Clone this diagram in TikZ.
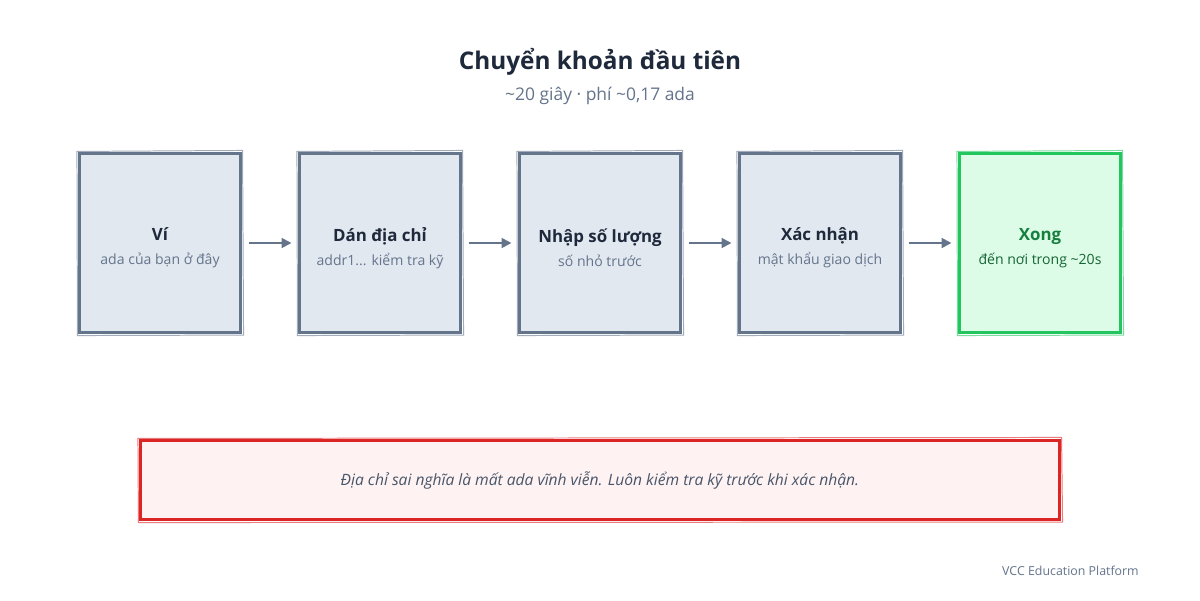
\documentclass[tikz,border=0pt]{standalone}
\usepackage{fontspec}
\setmainfont{Open Sans}
\usetikzlibrary{arrows.meta}
\definecolor{slateline}{HTML}{64748B}
\definecolor{slatefill}{HTML}{E2E8F0}
\definecolor{darktext}{HTML}{1E293B}
\definecolor{subtext}{HTML}{64748B}
\definecolor{greenline}{HTML}{22C55E}
\definecolor{greenfill}{HTML}{DCFCE7}
\definecolor{greentext}{HTML}{15803D}
\definecolor{greensub}{HTML}{166534}
\definecolor{redline}{HTML}{DC2626}
\definecolor{redfill}{HTML}{FEF2F2}
\definecolor{warntext}{HTML}{475569}
\newlength{\px}
\setlength{\px}{0.025cm}
\tikzset{
	stepbox/.style={draw=slateline,fill=slatefill,line width=1.5pt,minimum width=161\px,minimum height=179\px,inner sep=0pt},
	donebox/.style={stepbox,draw=greenline,fill=greenfill},
	steptext/.style={align=center,inner sep=0pt},
	warnbox/.style={draw=redline,fill=redfill,line width=1.5pt,minimum width=919\px,minimum height=79\px,inner sep=0pt},
	sketchline/.style={line width=0.7pt,opacity=0.6},
	flow/.style={draw=slateline,line width=1.5pt,-{Triangle[length=7pt,width=7pt]}}
}
\newcommand{\steptitle}[2]{{\fontsize{12}{14}\selectfont\bfseries\color{#1}#2}}
\newcommand{\stepsub}[2]{{\fontsize{10}{12}\selectfont\color{#1}#2}}
% second, slightly crooked stroke round a box
\newcommand{\sketch}[2]{\draw[sketchline,draw=#2]([shift={(-1.5\px,1\px)}]#1.north west)--([shift={(1\px,2\px)}]#1.north east)--([shift={(2\px,-1.5\px)}]#1.south east)--([shift={(-1\px,-2\px)}]#1.south west)--cycle;}
\begin{document}
\begin{tikzpicture}[x=0.025cm,y=-0.025cm]
	\useasboundingbox[fill=white](0,0)rectangle(1200,600);
	% title
	\node(title)at(600,62){\fontsize{17.3}{20}\selectfont\bfseries\color{darktext}Chuyển khoản đầu tiên};
	\node(subtitle)at(600,96){\fontsize{12.4}{14}\selectfont\color{subtext}\textasciitilde20 giây · phí \textasciitilde0,17 ada};
	% steps
	\node[stepbox](wallet)at(160,243){};
	\node[stepbox](paste)at(380,243){};
	\node[stepbox](amount)at(600,243){};
	\node[stepbox](confirm)at(820,243){};
	\node[donebox](done)at(1040,243){};
	\sketch{wallet}{slateline}
	\sketch{paste}{slateline}
	\sketch{amount}{slateline}
	\sketch{confirm}{slateline}
	\sketch{done}{greenline}
	\node[steptext](walletText)at([yshift=-5\px]wallet.center){\steptitle{darktext}{Ví}\\[5pt]\stepsub{subtext}{ada của bạn ở đây}};
	\node[steptext](pasteText)at([yshift=-5\px]paste.center){\steptitle{darktext}{Dán địa chỉ}\\[5pt]\stepsub{subtext}{addr1... kiểm tra kỹ}};
	\node[steptext](amountText)at([yshift=-5\px]amount.center){\steptitle{darktext}{Nhập số lượng}\\[5pt]\stepsub{subtext}{số nhỏ trước}};
	\node[steptext](confirmText)at([yshift=-5\px]confirm.center){\steptitle{darktext}{Xác nhận}\\[5pt]\stepsub{subtext}{mật khẩu giao dịch}};
	\node[steptext](doneText)at([yshift=-5\px]done.center){\steptitle{greentext}{Xong}\\[5pt]\stepsub{greensub}{đến nơi trong \textasciitilde20s}};
	\draw[flow]([xshift=7\px]wallet.east)--([xshift=-7\px]paste.west);
	\draw[flow]([xshift=7\px]paste.east)--([xshift=-7\px]amount.west);
	\draw[flow]([xshift=7\px]amount.east)--([xshift=-7\px]confirm.west);
	\draw[flow]([xshift=7\px]confirm.east)--([xshift=-7\px]done.west);
	% warning
	\node[warnbox](warning)at(600,480){};
	\sketch{warning}{redline}
	\node(warningText)at(warning.center){\fontsize{11.1}{13}\selectfont\itshape\color{warntext}Địa chỉ sai nghĩa là mất ada vĩnh viễn. Luôn kiểm tra kỹ trước khi xác nhận.};
	\node[anchor=east,inner sep=0pt](footer)at(1139,571){\fontsize{8.8}{10}\selectfont\color{subtext}VCC Education Platform};
\end{tikzpicture}
\end{document}
